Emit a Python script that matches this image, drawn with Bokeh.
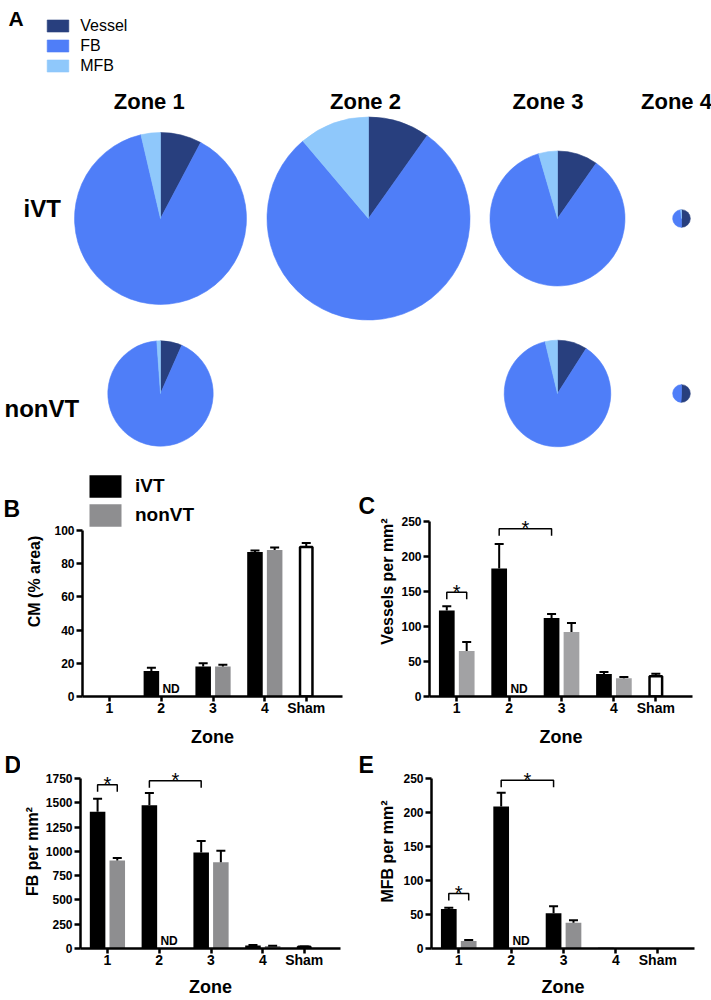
import math
from bokeh.plotting import figure
from bokeh.layouts import column, row
from bokeh.models import (Range1d, Label, Legend, LegendItem, FixedTicker,
                          Whisker, TeeHead, ColumnDataSource)
from bokeh.embed import file_html
from bokeh.resources import INLINE

FONT = "Liberation Sans"

# ---------------- data ----------------
zones = ["Zone 1", "Zone 2", "Zone 3", "Zone 4"]
groups = ["iVT", "nonVT"]
cell_types = ["Vessel", "FB", "MFB"]
tick_labels = ["1", "2", "3", "4", "Sham"]

# B: CM (% area)   (None = ND)
cm_ivt = [0, 15.3, 18.0, 87.0]
cm_ivt_err = [0, 2.0, 2.0, 1.0]
cm_non = [0, None, 18.0, 88.3]
cm_non_err = [0, 0, 1.2, 1.4]
cm_sham = [90.0]
cm_sham_err = [2.5]

# C: vessels per mm2
ves_ivt = [123, 183, 112, 32]
ves_ivt_err = [6, 35, 6, 3]
ves_non = [65, None, 92, 26]
ves_non_err = [13, 0, 13, 2]
ves_sham = [29]
ves_sham_err = [3.5]

# D: FB per mm2
fb_ivt = [1408, 1475, 989, 31]
fb_ivt_err = [134, 127, 117, 5]
fb_non = [905, None, 888, 25]
fb_non_err = [27, 0, 118, 4]
fb_sham = [18]
fb_sham_err = [3]

# E: MFB per mm2
mfb_ivt = [58, 209, 52, 1]
mfb_ivt_err = [2, 20, 10, 0]
mfb_non = [11, None, 38, 0]
mfb_non_err = [1.5, 0, 3.5, 0]
mfb_sham = [0]
mfb_sham_err = [0]

# A: relative pie size (largest pie = 1)
pie_size_ivt = [0.847, 1.0, 0.665, 0.087]
pie_size_non = [0.519, None, 0.525, 0.087]

# significance brackets: (group1, zone1, group2, zone2, height)
sig_ves = [("iVT", 1, "nonVT", 1, 149), ("iVT", 2, "iVT", 3, 239.5)]
sig_fb = [("iVT", 1, "nonVT", 1, 1686), ("iVT", 2, "iVT", 3, 1726)]
sig_mfb = [("iVT", 1, "nonVT", 1, 81), ("iVT", 2, "iVT", 3, 247.6)]

# ---------------- styles ----------------
COL_VESSEL = "#283F7E"
COL_FB = "#4F7EF8"
COL_MFB = "#8FC8FB"

ZONE_X = [1, 2, 3, 4]
SHAM_X = 4.8
OFF = 0.19
BAR_W = 0.3
X_START, X_END = 0.48, 5.5
BASE_FIX = 0.3   # label baseline correction (fraction of font size)


def blank_fig(left, top, width, height):
    f = figure(width=width, height=height, x_range=Range1d(left, left + width),
               y_range=Range1d(-(top + height), -top), toolbar_location=None,
               output_backend="svg", min_border_left=0, min_border_right=0,
               min_border_top=0, min_border_bottom=0)
    f.axis.visible = False
    f.grid.visible = False
    f.outline_line_color = None
    return f


def page_label(f, x, baseline, text, size, bold=True, align="left"):
    f.add_layout(Label(x=x, y=-(baseline - BASE_FIX * size), text=text, text_font=FONT,
                       text_font_size=f"{size}px",
                       text_font_style="bold" if bold else "normal",
                       text_baseline="alphabetic", text_align=align, text_color="black"))


def letter_fig(left, top, width, height, letter, x, baseline):
    f = blank_fig(left, top, width, height)
    page_label(f, x, baseline, letter, 23)
    return f


def bar_panel(fig_left, fig_top, width, height, mbl, mbr, mbt, mbb, ytop, ymax, ystep,
              ylabel, ivt, ivt_err, non, non_err, sham, sham_err, gray,
              ylab_standoff, xlab_standoff, brackets=(), legend_box=None):
    fh = height - mbt - mbb
    fx0 = fig_left + mbl
    fy0 = fig_top + height - mbb
    ppu_y = fh / ytop

    p = figure(width=width, height=height, x_range=Range1d(X_START, X_END),
               y_range=Range1d(0, ytop), toolbar_location=None, output_backend="svg",
               min_border_left=mbl, min_border_right=mbr, min_border_top=mbt,
               min_border_bottom=mbb)
    p.grid.visible = False
    p.outline_line_color = None
    p.background_fill_color = "white"

    def group_src(vals, errs, off):
        xs, tops = [], []
        wx, wu, wl = [], [], []
        for z, v, e in zip(ZONE_X, vals, errs):
            if v is None or v <= 0:
                continue
            xs.append(z + off)
            tops.append(v)
            if e and e > 0:
                wx.append(z + off)
                wu.append(v + e)
                wl.append(v)
        return (ColumnDataSource(dict(x=xs, top=tops)),
                ColumnDataSource(dict(x=wx, upper=wu, lower=wl)))

    s_ivt, w_ivt = group_src(ivt, ivt_err, -OFF)
    s_non, w_non = group_src(non, non_err, OFF)
    r_ivt = p.vbar(x="x", top="top", width=BAR_W, bottom=0, source=s_ivt,
                   fill_color="black", line_color=None)
    r_non = p.vbar(x="x", top="top", width=BAR_W, bottom=0, source=s_non,
                   fill_color=gray, line_color=None)
    if sham[0] > 0:
        p.vbar(x=[SHAM_X], top=sham, width=0.24, bottom=0, fill_color="white",
               line_color="black", line_width=2.5)
    has_err = sham_err[0] > 0
    wsh = ColumnDataSource(dict(x=[SHAM_X] if has_err else [],
                                upper=[sham[0] + sham_err[0]] if has_err else [],
                                lower=[sham[0]] if has_err else []))
    for wsrc in (w_ivt, w_non, wsh):
        p.add_layout(Whisker(source=wsrc, base="x", upper="upper", lower="lower",
                             dimension="height", line_color="black", line_width=2,
                             upper_head=TeeHead(size=9, line_width=2, line_color="black"),
                             lower_head=None, level="overlay"))

    # ND labels
    for z, v in zip(ZONE_X, non):
        if v is None:
            p.add_layout(Label(x=z + OFF, y=(4 + BASE_FIX * 12) / ppu_y, text="ND",
                               text_align="center", text_baseline="alphabetic",
                               text_font=FONT, text_font_size="12px",
                               text_font_style="bold", text_color="black"))

    # significance brackets
    def bx(g, z):
        return z - OFF if g == "iVT" else z + OFF
    leg = 7 / ppu_y
    for g1, z1, g2, z2, h in brackets:
        x1, x2 = bx(g1, z1), bx(g2, z2)
        p.multi_line(xs=[[x1, x1, x2, x2]], ys=[[h - leg, h, h, h - leg]],
                     line_color="black", line_width=1.5)
        p.add_layout(Label(x=(x1 + x2) / 2, y=h + 0.5 / ppu_y, text="*",
                           text_align="center", text_baseline="alphabetic",
                           text_font=FONT, text_font_size="20px", text_color="black"))

    # axes
    xa = p.xaxis[0]
    ticks = ZONE_X + [SHAM_X]
    xa.ticker = FixedTicker(ticks=ticks)
    xa.major_label_overrides = {t: lab for t, lab in zip(ticks, tick_labels)}
    xa.axis_label = "Zone"
    xa.axis_label_standoff = xlab_standoff
    xa.axis_label_text_font_size = "18px"
    xa.major_label_text_font_size = "14px"
    xa.major_label_standoff = -2

    ya = p.yaxis[0]
    ya.ticker = FixedTicker(ticks=list(range(0, ymax + 1, ystep)))
    ya.bounds = (0, ymax)
    ya.axis_label = ylabel
    ya.axis_label_standoff = ylab_standoff
    ya.axis_label_text_font_size = "16px"
    ya.major_label_text_font_size = "12px"
    ya.major_label_standoff = 2
    ya.major_tick_out = 6

    for ax in (xa, ya):
        ax.axis_line_width = 2.5
        ax.axis_line_color = "black"
        ax.major_tick_line_width = 2.5
        ax.major_tick_line_color = "black"
        ax.major_tick_in = 0
        ax.minor_tick_line_color = None
        ax.major_label_text_font = FONT
        ax.major_label_text_font_style = "bold"
        ax.major_label_text_color = "black"
        ax.axis_label_text_font = FONT
        ax.axis_label_text_font_style = "bold"
        ax.axis_label_text_color = "black"
    xa.major_tick_out = 5

    if legend_box is not None:
        gx, gy_bottom = legend_box
        lg = Legend(items=[LegendItem(label=groups[0], renderers=[r_ivt]),
                           LegendItem(label=groups[1], renderers=[r_non])],
                    location=(gx - fx0, fy0 - gy_bottom),
                    glyph_width=40, glyph_height=28, label_height=28, spacing=1,
                    label_standoff=10, padding=0, margin=0,
                    border_line_color=None, background_fill_alpha=0,
                    label_text_font=FONT, label_text_font_size="19px",
                    label_text_font_style="bold", label_text_color="black")
        p.add_layout(lg)
    return p


# ---------------- panel A: pies ----------------
pA = blank_fig(0, 0, 711, 460)

COL_CENTERS = [160, 368, 557, 681]
ROW_CENTERS = [-218, -393]
R_MAX = 101.5

series = {
    "iVT": (ves_ivt, fb_ivt, mfb_ivt, pie_size_ivt),
    "nonVT": (ves_non, fb_non, mfb_non, pie_size_non),
}
wedge_data = {c: dict(x=[], y=[], r=[], s=[], e=[]) for c in cell_types}
for gi, g in enumerate(groups):
    ves, fb, mfb, size = series[g]
    for zi in range(4):
        if ves[zi] is None or size[zi] is None:
            continue
        parts = [ves[zi], fb[zi], mfb[zi]]
        tot = float(sum(parts))
        a = math.pi / 2
        for c, val in zip(cell_types, parts):
            b = a - 2 * math.pi * val / tot
            if val > 0:
                d = wedge_data[c]
                d["x"].append(COL_CENTERS[zi])
                d["y"].append(ROW_CENTERS[gi])
                d["r"].append(size[zi] * R_MAX)
                d["s"].append(b)
                d["e"].append(a)
            a = b

pie_renderers = []
for c, col in zip(cell_types, [COL_VESSEL, COL_FB, COL_MFB]):
    r = pA.wedge(x="x", y="y", radius="r", radius_units="screen", start_angle="s",
                 end_angle="e", direction="anticlock",
                 source=ColumnDataSource(wedge_data[c]),
                 fill_color=col, line_color=col, line_width=0.6)
    pie_renderers.append(r)

legA = Legend(items=[LegendItem(label=c, renderers=[r]) for c, r in zip(cell_types, pie_renderers)],
              location=(44.25, 384.5), glyph_width=27, glyph_height=15,
              label_height=20, spacing=0, label_standoff=9, padding=0, margin=0,
              border_line_color=None, background_fill_alpha=0,
              label_text_font=FONT, label_text_font_size="16px", label_text_color="black")
pA.add_layout(legA)

page_label(pA, 8, 24, "A", 21)
for ztxt, cx in zip(zones, [148.7, 365, 547.5, 676]):
    page_label(pA, cx, 108, ztxt, 22, align="center")
page_label(pA, 23, 215, groups[0], 24)
page_label(pA, 4, 415, groups[1], 24)

# ---------------- panels B-E ----------------
BC_TOP, BC_H = 460, 290
DE_TOP, DE_H = 750, 250

lB = letter_fig(0, BC_TOP, 23, BC_H, "B", 3, 520)
pB = bar_panel(23, BC_TOP, 332, BC_H, 56, 13, 6, 54, 100 * 230 / 166, 100, 20,
               "CM (% area)", cm_ivt, cm_ivt_err, cm_non, cm_non_err, cm_sham, cm_sham_err,
               "#8E8E90", 8, 8, legend_box=(82, 528.8))
lC = letter_fig(355, BC_TOP, 21, BC_H, "C", 358, 517)
pC = bar_panel(376, BC_TOP, 335, BC_H, 53, 19, 6, 54, 250 * 230 / 175, 250, 50,
               "Vessels per mm²", ves_ivt, ves_ivt_err, ves_non, ves_non_err, ves_sham,
               ves_sham_err, "#A2A2A4", 2, 8, brackets=sig_ves)

lD = letter_fig(0, DE_TOP, 20, DE_H, "D", 4, 771)
pD = bar_panel(20, DE_TOP, 335, DE_H, 57, 15, 4, 52, 1750 * 194 / 170, 1750, 250,
               "FB per mm²", fb_ivt, fb_ivt_err, fb_non, fb_non_err, fb_sham, fb_sham_err,
               "#8E8E90", 2, 6, brackets=sig_fb)
lE = letter_fig(355, DE_TOP, 21, DE_H, "E", 358, 771)
pE = bar_panel(376, DE_TOP, 335, DE_H, 55, 17, 4, 52, 250 * 194 / 170, 250, 50,
               "MFB per mm²", mfb_ivt, mfb_ivt_err, mfb_non, mfb_non_err, mfb_sham,
               mfb_sham_err, "#8F8F91", 4, 6, brackets=sig_mfb)

layout = column(pA, row(lB, pB, lC, pC, spacing=0), row(lD, pD, lE, pE, spacing=0), spacing=0)

open("out.html", "w").write(file_html(layout, INLINE, "Figure"))
